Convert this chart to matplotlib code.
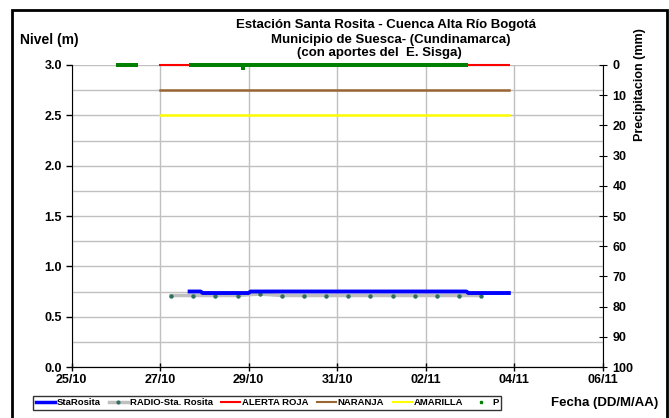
import datetime
import pandas as pd
import numpy as np
import matplotlib
matplotlib.use('Agg')
import matplotlib.pyplot as plt
import matplotlib.dates as mdates
from matplotlib.lines import Line2D
from matplotlib.patches import Rectangle

plt.rcParams['font.family'] = ['Liberation Sans', 'DejaVu Sans']
plt.rcParams['font.weight'] = 'bold'

# StaRosita level (m)
sta_times = ['2011-10-27 16:00', '2011-10-27 22:00', '2011-10-27 23:00', '2011-10-29 00:00',
             '2011-10-29 01:00', '2011-11-02 22:00', '2011-11-02 23:00', '2011-11-03 21:00']
sta_level = [0.75, 0.75, 0.735, 0.735, 0.75, 0.75, 0.735, 0.735]

# RADIO-Sta. Rosita readings (m), twice a day
radio_times = ['2011-10-27 06:00', '2011-10-27 18:00', '2011-10-28 06:00', '2011-10-28 18:00',
               '2011-10-29 06:00', '2011-10-29 18:00', '2011-10-30 06:00', '2011-10-30 18:00',
               '2011-10-31 06:00', '2011-10-31 18:00', '2011-11-01 06:00', '2011-11-01 18:00',
               '2011-11-02 06:00', '2011-11-02 18:00', '2011-11-03 06:00']
radio_level = [0.71, 0.71, 0.71, 0.71, 0.725, 0.71, 0.71, 0.71,
               0.71, 0.71, 0.71, 0.71, 0.71, 0.71, 0.71]

# alert thresholds (m)
alert_span = ['2011-10-27 00:00', '2011-11-03 21:00']
alerta_roja = 3.0
naranja = 2.75
amarilla = 2.5

# hourly precipitation (mm): reported periods, all zero except one reading
p_periods = [('2011-10-26 01:00', '2011-10-26 11:00'),
             ('2011-10-27 17:00', '2011-11-02 22:00')]
p_nonzero = {'2011-10-28 21:00': 1.0}

p_t = pd.DatetimeIndex(np.concatenate([pd.date_range(a, b, freq='h') for a, b in p_periods]))
p_v = np.zeros(len(p_t))
for k, v in p_nonzero.items():
    p_v[p_t.get_loc(pd.Timestamp(k))] = v

fig = plt.figure(figsize=(6.69, 4.18), dpi=100)
ax = fig.add_axes([0.1069, 0.122, 0.7944, 0.7225])

ax.plot(pd.to_datetime(radio_times), radio_level, color='#c0c0c0', lw=2.5, zorder=3)
ax.plot(pd.to_datetime(radio_times), radio_level, ls='none', marker='o', ms=2.2,
        color='#2f6f62', zorder=4)
ax.plot(pd.to_datetime(sta_times), sta_level, color='#0000ff', lw=2.8, zorder=5)
span = pd.to_datetime(alert_span)
ax.plot(span, [alerta_roja] * 2, color='#ff0000', lw=1.5, zorder=3, clip_on=False)
ax.plot(span, [naranja] * 2, color='#996633', lw=1.8, zorder=3)
ax.plot(span, [amarilla] * 2, color='#ffff00', lw=1.8, zorder=3)

ax.set_ylim(0, 3.0)
ax.set_xlim(datetime.datetime(2011, 10, 25), datetime.datetime(2011, 11, 6))
ax.set_xticks([datetime.datetime(2011, 10, 25) + datetime.timedelta(days=2 * i) for i in range(7)])
ax.xaxis.set_major_formatter(mdates.DateFormatter('%d/%m'))
ax.set_yticks(np.arange(0, 3.01, 0.5))
ax.set_yticks(np.arange(0.25, 3.0, 0.5), minor=True)
ax.yaxis.set_major_formatter(matplotlib.ticker.FormatStrFormatter('%.1f'))
ax.grid(True, which='both', axis='y', color='#c0c0c0', lw=1)
ax.grid(True, which='major', axis='x', color='#c0c0c0', lw=1)
ax.tick_params(axis='y', which='minor', length=0)
ax.tick_params(axis='both', which='major', labelsize=9, length=4, width=1, pad=3)
ax.tick_params(axis='x', direction='inout', length=6, pad=2)
ax.spines['top'].set_visible(False)
ax.spines['right'].set_visible(False)
ax.set_axisbelow(True)

ax2 = ax.twinx()
ax2.plot(p_t, p_v, ls='none', marker='s', ms=2.4, mew=0, color='#008000', zorder=6, clip_on=False)
ax2.set_ylim(100, 0)
ax2.set_yticks(np.arange(0, 101, 10))
ax2.tick_params(axis='y', labelsize=9, direction='inout', length=6, pad=4)
ax2.spines['top'].set_visible(False)
ax2.spines['left'].set_visible(False)

fig.text(0.957, 0.797, 'Precipitacion (mm)', rotation=90, ha='center', va='center', fontsize=9)
fig.text(0.577, 0.940, 'Estación Santa Rosita - Cuenca Alta Río Bogotá', ha='center', va='center', fontsize=9.5)
fig.text(0.584, 0.904, 'Municipio de Suesca- (Cundinamarca)', ha='center', va='center', fontsize=9.5)
fig.text(0.567, 0.873, '(con aportes del  E. Sisga)', ha='center', va='center', fontsize=9.5)
fig.text(0.03, 0.904, 'Nivel (m)', ha='left', va='center', fontsize=10)
fig.text(0.984, 0.036, 'Fecha (DD/M/AA)', ha='right', va='center', fontsize=9.5)

handles = [Line2D([], [], color='#0000ff', lw=2.5),
           Line2D([], [], color='#c0c0c0', lw=2.5, marker='o', ms=2, mfc='#2f6f62', mec='#2f6f62'),
           Line2D([], [], color='#ff0000', lw=1.5),
           Line2D([], [], color='#996633', lw=1.5),
           Line2D([], [], color='#ffff00', lw=1.5),
           Line2D([], [], ls='none', marker='s', ms=2, color='#008000')]
labels = ['StaRosita', 'RADIO-Sta. Rosita', 'ALERTA ROJA', 'NARANJA', 'AMARILLA', 'P']
leg = fig.legend(handles, labels, loc='center left', bbox_to_anchor=(0.049, 0.036), ncol=6,
                 fontsize=6.8, frameon=True, fancybox=False, edgecolor='black',
                 handlelength=2.0, handletextpad=0.2, columnspacing=0.9,
                 borderpad=0.3, borderaxespad=0)
leg.get_frame().set_linewidth(1)

fig.patches.append(Rectangle((12 / 669, -0.01), 655 / 669, 1 - 10 / 418 + 0.01,
                             transform=fig.transFigure, fill=False, edgecolor='black', lw=2))

fig.savefig('out.png', dpi=100)
